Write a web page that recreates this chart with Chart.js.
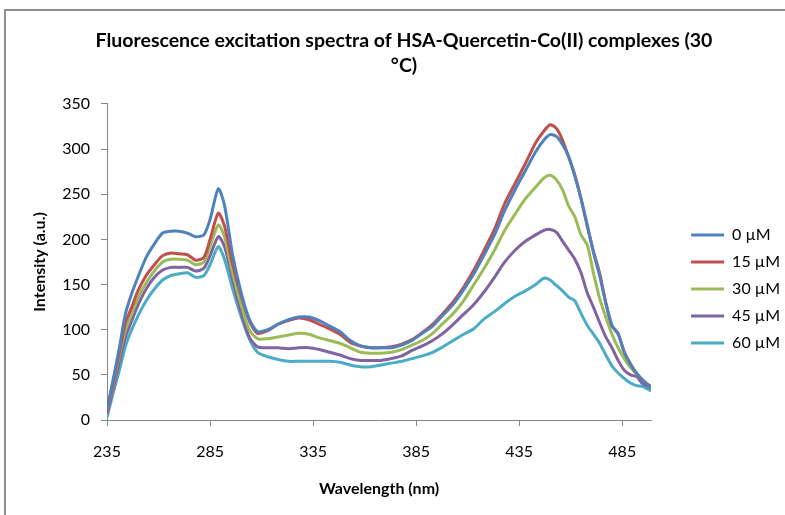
<!DOCTYPE html>
<html>
<head>
<meta charset="utf-8">
<script src="https://cdn.jsdelivr.net/npm/chart.js@4"></script>
<style>
  html, body { margin: 0; padding: 0; background: #fff; }
  #wrap { width: 785px; height: 515px; }
</style>
</head>
<body>
<div id="wrap"><canvas id="espectros" width="785" height="515"></canvas></div>
<script>
// longitudes de onda (nm)
const longitudes = [235, 238, 241, 244, 247, 250, 254, 258, 262, 266, 270, 274, 278, 282, 285, 289, 292, 296, 300, 304,
  308, 313, 318, 323, 328, 333, 338, 343, 348, 353, 358, 363, 368, 373, 378, 383, 388, 393, 398, 403,
  408, 413, 418, 423, 428, 433, 438, 443, 447, 450, 453, 456, 459, 462, 465, 468, 471, 474, 477, 480,
  483, 486, 489, 492, 495, 499];

const serie_0 = [12, 45, 80, 118, 140, 158, 180, 195, 207, 209, 209, 207, 203, 205, 222, 256, 238, 182, 142, 112,
  98, 100, 106, 111, 114, 114, 110, 104, 98, 88, 82, 80, 80, 80, 83, 88, 96, 104, 116, 128,
  144, 162, 183, 205, 232, 255, 276, 297, 310, 316, 314, 305, 292, 270, 245, 216, 186, 160, 130, 105,
  95, 75, 62, 52, 44, 35];

const serie_15 = [10, 42, 75, 108, 125, 143, 160, 172, 182, 185, 184, 183, 177, 180, 200, 229, 215, 172, 138, 110,
  96, 99, 106, 110, 113, 111, 106, 101, 95, 86, 82, 80, 80, 81, 84, 89, 97, 106, 118, 131,
  147, 166, 188, 211, 240, 262, 284, 307, 320, 327, 323, 310, 291, 271, 245, 215, 187, 163, 130, 104,
  96, 75, 62, 51, 44, 36];

const serie_30 = [10, 40, 72, 100, 118, 135, 152, 165, 175, 178, 178, 177, 172, 175, 192, 216, 203, 162, 128, 100,
  90, 90, 92, 94, 96, 95, 91, 88, 85, 80, 75, 74, 74, 75, 78, 83, 88, 96, 107, 118,
  132, 150, 168, 188, 210, 228, 245, 258, 268, 271, 266, 255, 237, 225, 205, 194, 163, 135, 114, 95,
  80, 68, 58, 51, 44, 37];

const serie_45 = [7, 35, 65, 92, 110, 127, 145, 158, 166, 169, 169, 169, 165, 168, 182, 203, 192, 155, 120, 92,
  81, 80, 80, 79, 80, 80, 78, 75, 72, 68, 66, 66, 66, 68, 71, 77, 82, 88, 96, 106,
  117, 128, 142, 158, 175, 188, 198, 205, 210, 211, 208, 198, 188, 178, 163, 141, 125, 108, 92, 80,
  66, 55, 50, 48, 40, 36];

const serie_60 = [3, 30, 55, 82, 100, 115, 132, 145, 155, 160, 162, 163, 158, 160, 172, 192, 178, 145, 115, 90,
  75, 70, 67, 65, 65, 65, 65, 65, 64, 61, 59, 59, 61, 63, 65, 68, 71, 75, 81, 88,
  95, 101, 112, 120, 129, 137, 143, 150, 157, 155, 149, 143, 136, 132, 118, 105, 95, 85, 72, 60,
  52, 46, 41, 38, 37, 32];

const etiquetas_x = [235, 285, 335, 385, 435, 485];
const nombres = ['0 µM', '15 µM', '30 µM', '45 µM', '60 µM'];
const colores = ['#4F81BD', '#C0504D', '#9BBB59', '#8064A2', '#4BACC6'];
const series = [serie_0, serie_15, serie_30, serie_45, serie_60];

const fuente = "Lato, 'Liberation Sans', sans-serif";

// marco gris del area del grafico (como en Excel)
const marco = {
  id: 'marco',
  beforeDraw(chart) {
    const c = chart.ctx;
    c.save();
    c.fillStyle = '#fff';
    c.fillRect(0, 0, chart.width, chart.height);
    c.strokeStyle = '#8f8f8f';
    c.lineWidth = 2;
    c.strokeRect(5, 10, 900, 900);
    c.restore();
  }
};

const ctx = document.getElementById('espectros').getContext('2d');

new Chart(ctx, {
  type: 'line',
  data: {
    datasets: series.map((s, i) => ({
      label: nombres[i],
      data: longitudes.map((w, j) => ({ x: w, y: s[j] })),
      borderColor: colores[i],
      backgroundColor: colores[i],
      borderWidth: 3,
      pointRadius: 0,
      tension: 0.25,
      xAxisID: 'x',
      yAxisID: 'y'
    }))
  },
  options: {
    responsive: false,
    animation: false,
    layout: { padding: { left: 18, right: -5, top: 0, bottom: 0 } },
    plugins: {
      title: {
        display: true,
        text: ['Fluorescence excitation spectra of HSA-Quercetin-Co(II) complexes (30', '°C)'],
        color: '#000',
        font: { family: fuente, size: 19.5, weight: 'bold', lineHeight: 1.28 },
        padding: { top: 28.5, bottom: 25.5 }
      },
      legend: {
        position: 'right',
        title: { display: true, text: ' ', font: { size: 16, lineHeight: 1.2 }, padding: { top: 44, bottom: 0 } },
        labels: {
          usePointStyle: true,
          pointStyle: 'line',
          pointStyleWidth: 33,
          padding: 11,
          color: '#000',
          font: { family: fuente, size: 16 }
        }
      },
      tooltip: { enabled: false }
    },
    scales: {
      x: {
        type: 'linear',
        min: 235,
        max: 499,
        afterBuildTicks: (s) => { s.ticks = etiquetas_x.map(v => ({ value: v })); },
        afterFit: (s) => { s.height = 95; },
        grid: { drawOnChartArea: false, drawTicks: true, tickLength: 6, color: '#868686' },
        border: { color: '#868686', width: 1 },
        ticks: { color: '#000', padding: 16, maxRotation: 0, font: { family: fuente, size: 16 } },
        title: {
          display: true,
          text: 'Wavelength (nm)',
          color: '#000',
          font: { family: fuente, size: 16, weight: 'bold' },
          padding: { top: 0, bottom: 17 }
        }
      },
      y: {
        min: 0,
        max: 350,
        afterFit: (s) => { s.width = 89; },
        grid: { drawOnChartArea: false, drawTicks: true, tickLength: 6, color: '#868686' },
        border: { color: '#868686', width: 1 },
        ticks: { stepSize: 50, color: '#000', padding: 11, font: { family: fuente, size: 16 } },
        title: {
          display: true,
          text: 'Intensity (a.u.)',
          color: '#000',
          font: { family: fuente, size: 16, weight: 'bold' },
          padding: { top: 12, bottom: 0 }
        }
      },
      relleno: {
        type: 'linear',
        position: 'right',
        display: true,
        afterFit: (s) => { s.width = 29; },
        grid: { display: false },
        border: { display: false },
        ticks: { display: false }
      }
    }
  },
  plugins: [marco]
});
</script>
</body>
</html>
